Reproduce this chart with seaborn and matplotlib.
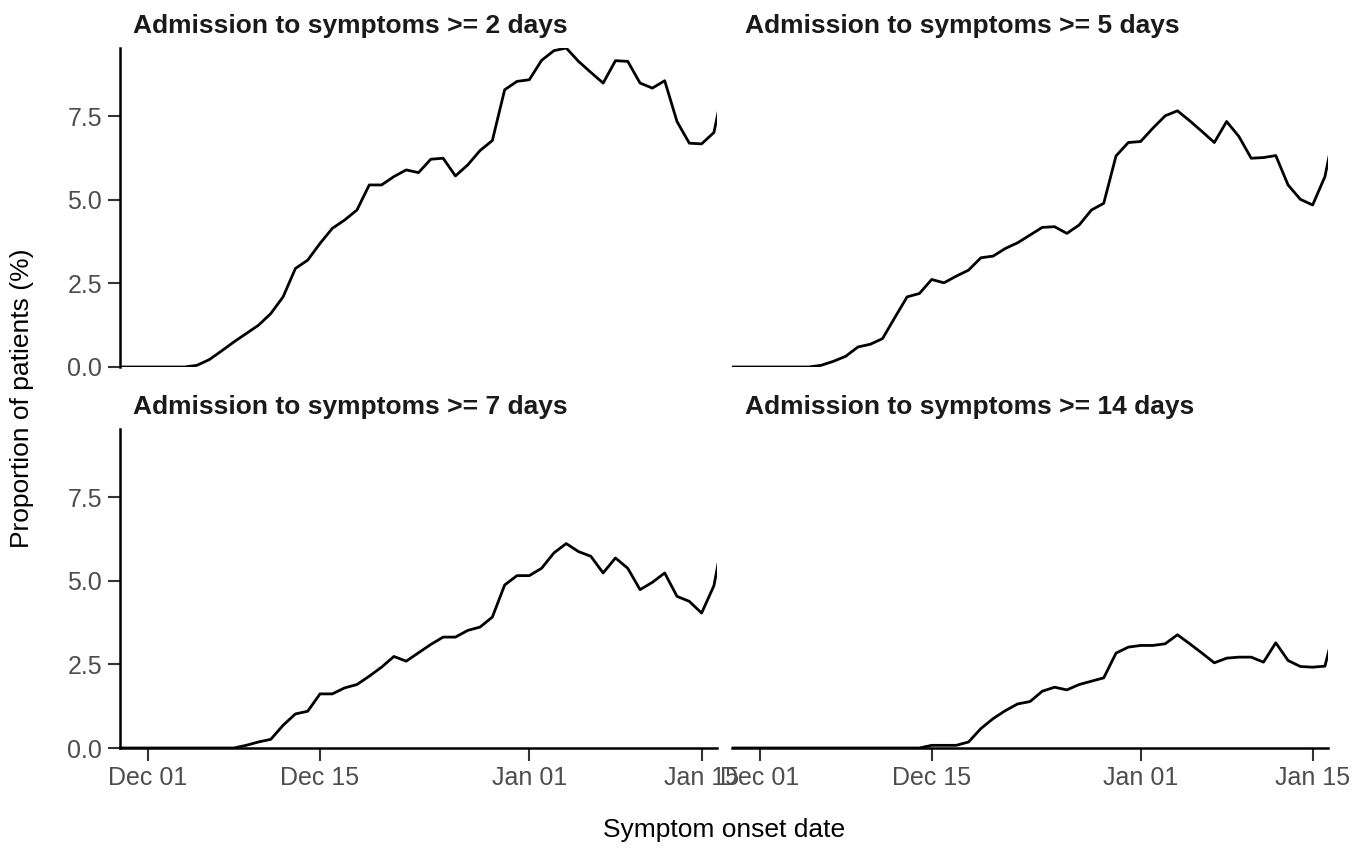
import matplotlib
matplotlib.use("Agg")
import matplotlib.pyplot as plt
import matplotlib.dates as mdates
import numpy as np
import pandas as pd
import seaborn as sns

# ---------------- data (daily, 2021-11-28 .. 2022-01-17) ----------------
dates = pd.date_range("2021-11-28", "2022-01-17", freq="D")

panel_titles = [
    "Admission to symptoms >= 2 days",
    "Admission to symptoms >= 5 days",
    "Admission to symptoms >= 7 days",
    "Admission to symptoms >= 14 days",
]

ge2 = [0, 0, 0, 0, 0, 0, 0,
       0.05, 0.22, 0.48, 0.75, 1.0, 1.25, 1.6, 2.1, 2.95, 3.2, 3.7, 4.15, 4.4, 4.7,
       5.45, 5.45, 5.7, 5.9, 5.82, 6.22, 6.25, 5.72, 6.05, 6.48, 6.78, 8.3, 8.55, 8.6,
       9.18, 9.47, 9.55, 9.15, 8.82, 8.5, 9.17, 9.15, 8.5, 8.35, 8.57, 7.35, 6.7, 6.68,
       7.02, 8.8]
ge5 = [0, 0, 0, 0, 0, 0, 0, 0,
       0.05, 0.17, 0.32, 0.6, 0.68, 0.85, 1.48, 2.1, 2.2, 2.62, 2.52, 2.72, 2.9, 3.27,
       3.32, 3.55, 3.72, 3.95, 4.18, 4.2, 4.0, 4.25, 4.7, 4.9, 6.32, 6.72, 6.75, 7.15,
       7.52, 7.67, 7.37, 7.05, 6.72, 7.35, 6.9, 6.25, 6.27, 6.33, 5.45, 5.02, 4.85, 5.7,
       7.5]
ge7 = [0, 0, 0, 0, 0, 0, 0, 0, 0, 0, 0,
       0.08, 0.18, 0.26, 0.68, 1.02, 1.1, 1.62, 1.62, 1.8, 1.9, 2.15, 2.42, 2.74, 2.6,
       2.85, 3.1, 3.32, 3.32, 3.52, 3.62, 3.92, 4.88, 5.16, 5.16, 5.38, 5.84, 6.12, 5.88,
       5.74, 5.24, 5.69, 5.38, 4.74, 4.96, 5.24, 4.54, 4.39, 4.04, 4.86, 6.8]
ge14 = [0, 0, 0, 0, 0, 0, 0, 0, 0, 0, 0, 0, 0, 0, 0, 0, 0,
        0.08, 0.08, 0.08, 0.18, 0.58, 0.88, 1.12, 1.32, 1.39, 1.7, 1.82, 1.74, 1.9, 2.0,
        2.1, 2.84, 3.02, 3.07, 3.07, 3.12, 3.39, 3.12, 2.84, 2.55, 2.69, 2.72, 2.72, 2.57,
        3.15, 2.62, 2.44, 2.42, 2.45, 3.9]

series = [ge2, ge5, ge7, ge14]

x_ticks = ["2021-12-01", "2021-12-15", "2022-01-01", "2022-01-15"]
y_ticks = [0.0, 2.5, 5.0, 7.5]

frames = []
for title, vals in zip(panel_titles, series):
    assert len(vals) == len(dates)
    frames.append(pd.DataFrame({"date": dates, "value": vals, "panel": title}))
df = pd.concat(frames, ignore_index=True)

# ---------------- style ----------------
sns.set_theme(style="ticks")
plt.rcParams["font.family"] = ["Liberation Sans", "DejaVu Sans"]

W, H = 1364, 849
fig = plt.figure(figsize=(W / 100, H / 100), dpi=100)

# panel boxes in pixels: (left, top, right, bottom)
boxes = [(120, 48, 717, 367), (732, 48, 1328, 367),
         (120, 429, 717, 748), (732, 429, 1328, 748)]

xmin = pd.Timestamp("2021-11-28 18:00")
xmax = pd.Timestamp("2022-01-16 06:00")

for i, (title, box) in enumerate(zip(panel_titles, boxes)):
    l, t, r, b = box
    ax = fig.add_axes([l / W, 1 - b / H, (r - l) / W, (b - t) / H])
    sub = df[df["panel"] == title]
    sns.lineplot(data=sub, x="date", y="value", ax=ax, color="black",
                 linewidth=2.0, legend=False)
    ax.set_xlim(xmin, xmax)
    ax.set_ylim(0, 9.55)
    ax.set_xlabel("")
    ax.set_ylabel("")
    ax.grid(False)
    for s in ["top", "right"]:
        ax.spines[s].set_visible(False)
    for s in ["left", "bottom"]:
        ax.spines[s].set_linewidth(1.8)
        ax.spines[s].set_color("black")
    ax.set_xticks(pd.to_datetime(x_ticks))
    ax.xaxis.set_major_formatter(mdates.DateFormatter("%b %d"))
    ax.set_yticks(y_ticks)
    ax.yaxis.set_major_formatter(matplotlib.ticker.FormatStrFormatter("%.1f"))
    ax.tick_params(axis="both", length=9, width=1.5, color="#333333",
                   labelsize=18, labelcolor="#4d4d4d", pad=4)
    top_row = i < 2
    right_col = i % 2 == 1
    if top_row:
        ax.spines["bottom"].set_visible(False)
        ax.tick_params(axis="x", bottom=False, labelbottom=False)
    if right_col:
        ax.spines["left"].set_visible(False)
        ax.tick_params(axis="y", left=False, labelleft=False)
    ax.text(13 / (r - l), 1 + 22 / (b - t), title, transform=ax.transAxes,
            ha="left", va="center", fontsize=19, fontweight="bold",
            color="#1a1a1a")

fig.text(22 / W, 1 - 398 / H, "Proportion of patients (%)", rotation=90,
         ha="center", va="center", fontsize=19, color="black")
fig.text(724 / W, 1 - 830 / H, "Symptom onset date", ha="center",
         va="center", fontsize=19, color="black")

fig.savefig("out.png", dpi=100, facecolor="white")
